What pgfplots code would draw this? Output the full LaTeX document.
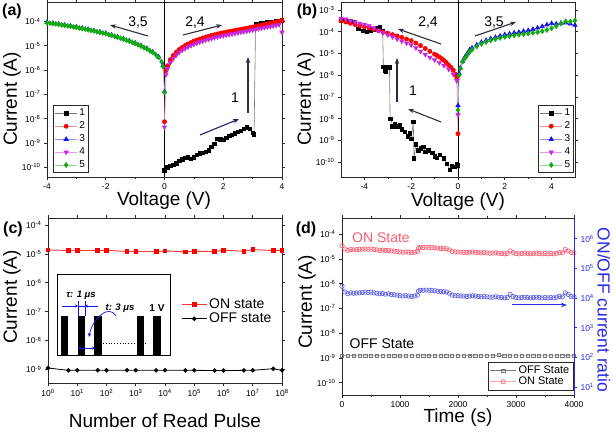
\documentclass[border=0pt]{standalone}
\usepackage{pgfplots}
\pgfplotsset{compat=1.18}
\usepackage{fontspec}
\setmainfont{Liberation Sans}
\usetikzlibrary{arrows.meta}

\definecolor{cRed}{RGB}{255,0,0}
\definecolor{cRedL}{RGB}{255,140,140}
\definecolor{cBlue}{RGB}{20,20,240}
\definecolor{cBlueL}{RGB}{140,140,255}
\definecolor{cMag}{RGB}{200,40,220}
\definecolor{cMagL}{RGB}{230,150,240}
\definecolor{cGrn}{RGB}{20,170,20}
\definecolor{cGrnL}{RGB}{140,220,140}
\definecolor{cGray}{RGB}{120,120,120}
\definecolor{cAx}{RGB}{40,40,40}
\definecolor{cArr}{RGB}{45,45,60}
\definecolor{cArrB}{RGB}{30,30,110}
\definecolor{cRAx}{RGB}{40,40,230}
\definecolor{cRatio}{RGB}{90,90,225}
\definecolor{cOn}{RGB}{255,90,110}

\pgfplotsset{
  myax/.style={scale only axis, anchor=south west,
    axis line style={line width=0.8pt, cAx},
    tick style={cAx, line width=0.6pt},
    tick align=outside, major tick length=3pt, minor tick length=1.8pt,
    tick label style={font=\fontsize{8.5}{9}\selectfont},
    /pgf/number format/assume math mode=true,
    /pgf/number format/1000 sep={},
  },
  myylab/.style={yticklabel={\pgfmathparse{int(round(\tick))}10\textsuperscript{\pgfmathresult}}},
  mysmallleg/.style={legend style={font=\fontsize{10}{11}\selectfont, draw=cAx, line width=0.5pt,
      inner sep=1.5pt, row sep=0.5pt, cells={anchor=west}},
    legend image code/.code={\draw[mark repeat=2,mark phase=2,##1] plot coordinates {(0pt,0pt)(11pt,0pt)(22pt,0pt)};}},
  sA/.style={color=cGray, line width=0.6pt, mark=square*, mark size=1.7pt, mark options={draw=black, fill=black}},
  sB/.style={color=cRedL, line width=0.6pt, mark=*, mark size=2.1pt, mark options={draw=cRed, fill=cRed}},
  sC/.style={color=cBlueL, line width=0.6pt, mark=triangle*, mark size=2.5pt, mark options={draw=cBlue, fill=cBlue}},
  sD/.style={color=cMagL, line width=0.6pt, mark=triangle*, mark size=2.5pt, mark options={draw=cMag, fill=cMag, rotate=180}},
  sE/.style={color=cGrnL, line width=0.6pt, mark=diamond*, mark size=2.5pt, mark options={draw=cGrn, fill=cGrn}},
}

\begin{document}
\begin{tikzpicture}
\path[use as bounding box] (0,0) rectangle (614pt,433pt);

% ---------------- (a) ----------------
\begin{axis}[myax, ymode=log, log basis y=10, myylab, mysmallleg, at={(47pt,256pt)}, width=235pt, height=175pt,
  xmin=-4, xmax=4, ymin=3.98e-11, ymax=6.31e-4,
  xtick={-4,-2,0,2,4}, minor x tick num=1,
  ytick={1e-10,1e-9,1e-8,1e-7,1e-6,1e-5,1e-4},
  legend style={at={(0.026,0.023)}, anchor=south west}]
\addplot[black, line width=0.7pt, forget plot] coordinates {(0,1e-12) (0,1e-2)};
\addplot[sA] coordinates {(0,7.5e-11)(0.1,1.0e-10)(0.2,1.15e-10)(0.3,1.3e-10)(0.4,1.45e-10)(0.5,1.8e-10)(0.6,2.1e-10)(0.7,2.4e-10)(0.8,2.6e-10)(0.9,2.2e-10)(1.0,2.6e-10)(1.1,3.2e-10)(1.2,3.7e-10)(1.3,4.0e-10)(1.4,4.3e-10)(1.5,5.0e-10)(1.6,7.0e-10)(1.7,9.5e-10)(1.8,1.45e-9)(1.9,1.4e-9)(2.0,1.35e-9)(2.1,1.6e-9)(2.2,1.95e-9)(2.3,2.2e-9)(2.4,2.5e-9)(2.5,2.8e-9)(2.6,3.2e-9)(2.7,3.8e-9)(2.8,4.4e-9)(2.9,3.9e-9)(3.0,2.6e-9)(3.05,2.3e-9)(3.1,7.8e-5)(3.2,8.2e-5)(3.3,8.5e-5)(3.4,8.8e-5)(3.5,9.1e-5)(3.6,9.4e-5)(3.7,9.7e-5)(3.8,1.01e-4)(3.9,1.05e-4)(4.0,1.1e-4)};
\addplot[sB] coordinates {(0,7.5e-9)(0.05,9.5e-7)(0.1,1.5e-6)(0.2,2.7e-6)(0.3,4.0e-6)(0.4,5.4e-6)(0.5,7.0e-6)(0.6,8.6e-6)(0.7,1.02e-5)(0.8,1.18e-5)(0.9,1.35e-5)(1.0,1.55e-5)(1.1,1.72e-5)(1.2,1.9e-5)(1.3,2.08e-5)(1.4,2.27e-5)(1.5,2.46e-5)(1.6,2.65e-5)(1.7,2.85e-5)(1.8,3.05e-5)(1.9,3.25e-5)(2.0,3.45e-5)(2.1,3.65e-5)(2.2,3.85e-5)(2.3,4.05e-5)(2.4,4.3e-5)(2.5,4.5e-5)(2.6,4.75e-5)(2.7,5.0e-5)(2.8,5.3e-5)(2.9,5.6e-5)(3.0,5.9e-5)(3.1,6.3e-5)(3.2,6.7e-5)(3.3,7.1e-5)(3.4,7.5e-5)(3.5,8.0e-5)(3.6,8.5e-5)(3.7,9.0e-5)(3.8,9.6e-5)(3.9,1.02e-4)(4.0,1.1e-4)};
\addplot[sC] coordinates {(0,1.3e-7)(-0.05,1.6e-6)(-0.2,3.5e-6)(-0.4,5.6e-6)(-0.6,7.8e-6)(-0.8,1.02e-5)(-1.0,1.3e-5)(-1.2,1.62e-5)(-1.4,1.97e-5)(-1.6,2.35e-5)(-1.8,2.78e-5)(-2.0,3.3e-5)(-2.2,3.7e-5)(-2.4,4.2e-5)(-2.6,4.75e-5)(-2.8,5.35e-5)(-3.0,5.95e-5)(-3.2,6.6e-5)(-3.4,7.2e-5)(-3.6,7.9e-5)(-3.8,8.6e-5)(-4.0,9.3e-5)};
\addplot[sD] coordinates {(0,4.5e-9)(0.05,6.5e-7)(0.1,1.1e-6)(0.2,2.0e-6)(0.3,3.0e-6)(0.4,4.1e-6)(0.5,5.3e-6)(0.6,6.5e-6)(0.7,7.7e-6)(0.8,8.9e-6)(0.9,1.02e-5)(1.0,1.15e-5)(1.1,1.28e-5)(1.2,1.42e-5)(1.3,1.56e-5)(1.4,1.7e-5)(1.5,1.85e-5)(1.6,2.0e-5)(1.7,2.15e-5)(1.8,2.3e-5)(1.9,2.45e-5)(2.0,2.6e-5)(2.1,2.75e-5)(2.2,2.9e-5)(2.3,3.05e-5)(2.4,3.2e-5)(2.5,3.4e-5)(2.6,3.6e-5)(2.7,3.8e-5)(2.8,4.0e-5)(2.9,4.2e-5)(3.0,4.45e-5)(3.1,4.7e-5)(3.2,5.0e-5)(3.3,5.3e-5)(3.4,5.6e-5)(3.5,5.9e-5)(3.6,6.2e-5)(3.7,6.6e-5)(3.8,7.0e-5)(3.9,7.4e-5)(4.0,3.6e-5)};
\addplot[sE] coordinates {(0,1.2e-7)(-0.05,1.4e-6)(-0.1,2.2e-6)(-0.2,3.3e-6)(-0.3,4.3e-6)(-0.4,5.3e-6)(-0.5,6.3e-6)(-0.6,7.4e-6)(-0.7,8.5e-6)(-0.8,9.7e-6)(-0.9,1.1e-5)(-1.0,1.25e-5)(-1.1,1.4e-5)(-1.2,1.55e-5)(-1.3,1.7e-5)(-1.4,1.88e-5)(-1.5,2.05e-5)(-1.6,2.25e-5)(-1.7,2.45e-5)(-1.8,2.65e-5)(-1.9,2.9e-5)(-2.0,3.15e-5)(-2.1,3.35e-5)(-2.2,3.55e-5)(-2.3,3.8e-5)(-2.4,4.05e-5)(-2.5,4.3e-5)(-2.6,4.55e-5)(-2.7,4.85e-5)(-2.8,5.1e-5)(-2.9,5.4e-5)(-3.0,5.7e-5)(-3.1,6.0e-5)(-3.2,6.3e-5)(-3.3,6.6e-5)(-3.4,6.9e-5)(-3.5,7.2e-5)(-3.6,7.55e-5)(-3.7,7.9e-5)(-3.8,8.2e-5)(-3.9,8.55e-5)(-4.0,8.9e-5)};
\legend{1,2,3,4,5}
\end{axis}

% ---------------- (b) ----------------
\begin{axis}[myax, ymode=log, log basis y=10, myylab, mysmallleg, at={(341pt,256pt)}, width=234pt, height=175pt,
  xmin=-5, xmax=5, ymin=2.04e-11, ymax=2.34e-3,
  xtick={-4,-2,0,2,4}, minor x tick num=1,
  ytick={1e-10,1e-9,1e-8,1e-7,1e-6,1e-5,1e-4,1e-3},
  legend style={at={(0.995,0.023)}, anchor=south east}]
\addplot[black, line width=0.7pt, forget plot] coordinates {(0,1e-12) (0,1e-2)};
\addplot[sA] coordinates {(0,7e-11)(-0.05,8e-11)(-0.15,6e-11)(-0.27,6.8e-11)(-0.35,4.5e-11)(-0.48,8.5e-11)(-0.6,1.5e-10)(-0.77,2.1e-10)(-0.9,1.6e-10)(-0.98,1.8e-10)(-1.1,2.6e-10)(-1.27,3.5e-10)(-1.4,3.0e-10)(-1.48,5.0e-10)(-1.6,4.2e-10)(-1.7,3.5e-10)(-1.8,6.5e-10)(-1.88,1.5e-10)(-1.91,7.0e-9)(-2.0,1.2e-9)(-2.06,2.1e-9)(-2.15,1.5e-9)(-2.27,2.5e-9)(-2.4,3.2e-9)(-2.48,5.0e-9)(-2.6,4.5e-9)(-2.7,5.6e-9)(-2.8,4.5e-9)(-2.87,1.0e-8)(-2.9,1.0e-8)(-2.93,2.3e-6)(-3.0,2.4e-6)(-3.08,1.5e-6)(-3.12,1.6e-6)(-3.19,2.4e-6)(-3.22,1.1e-4)(-3.33,1.6e-4)(-3.45,1.5e-4)(-3.62,1.3e-4)(-3.75,1.1e-4)(-3.9,1.0e-4)(-4.05,1.1e-4)(-4.26,1.4e-4)(-4.48,2.9e-4)(-4.7,3.0e-4)(-4.84,3.5e-4)(-5.0,3.2e-4)};
\addplot[sB] coordinates {(0,2e-9)(-0.05,8e-7)(-0.1,1.1e-6)(-0.2,1.7e-6)(-0.3,2.3e-6)(-0.4,2.9e-6)(-0.5,3.8e-6)(-0.6,4.8e-6)(-0.7,5.8e-6)(-0.8,6.9e-6)(-0.9,8.1e-6)(-1.0,9.3e-6)(-1.2,1.25e-5)(-1.4,1.7e-5)(-1.6,2.3e-5)(-1.8,3.0e-5)(-2.0,3.9e-5)(-2.2,4.6e-5)(-2.4,5.5e-5)(-2.6,6.4e-5)(-2.8,7.4e-5)(-3.0,8.5e-5)(-3.2,9.8e-5)(-3.4,1.12e-4)(-3.6,1.28e-4)(-3.8,1.5e-4)(-4.0,1.7e-4)(-4.2,1.9e-4)(-4.4,2.15e-4)(-4.6,2.45e-4)(-4.8,2.8e-4)(-5.0,3.2e-4)};
\addplot[sC] coordinates {(0,4e-8)(0.05,1.2e-6)(0.1,2.2e-6)(0.2,4.5e-6)(0.3,7e-6)(0.4,1.0e-5)(0.5,1.5e-5)(0.6,1.8e-5)(0.8,2.5e-5)(1.0,3.3e-5)(1.2,4.0e-5)(1.4,4.8e-5)(1.6,5.6e-5)(1.8,6.5e-5)(2.0,7.4e-5)(2.2,8.0e-5)(2.4,8.8e-5)(2.6,9.5e-5)(2.8,1.05e-4)(3.0,1.15e-4)(3.2,1.3e-4)(3.4,1.5e-4)(3.6,1.75e-4)(3.8,2.1e-4)(4.0,2.4e-4)(4.2,2.3e-4)(4.4,2.5e-4)(4.6,2.6e-4)(4.8,2.3e-4)(5.0,2.0e-4)};
\addplot[sD] coordinates {(0,1.5e-8)(-0.05,5.5e-7)(-0.2,1.1e-6)(-0.4,1.9e-6)(-0.6,2.8e-6)(-0.8,3.8e-6)(-1.0,5.0e-6)(-1.2,6.6e-6)(-1.4,9.0e-6)(-1.6,1.25e-5)(-1.8,1.8e-5)(-2.0,2.45e-5)(-2.2,3.0e-5)(-2.4,3.7e-5)(-2.6,4.6e-5)(-2.8,5.8e-5)(-3.0,7.1e-5)(-3.2,9.0e-5)(-3.4,1.15e-4)(-3.6,1.5e-4)(-3.8,1.85e-4)(-4.0,2.1e-4)(-4.2,2.4e-4)(-4.4,2.8e-4)(-4.6,3.3e-4)(-4.8,3.8e-4)(-5.0,4.1e-4)};
\addplot[sE] coordinates {(0,2.5e-8)(0.05,1.0e-6)(0.1,2.0e-6)(0.2,4.2e-6)(0.3,6e-6)(0.4,8.5e-6)(0.5,1.2e-5)(0.6,1.5e-5)(0.8,2.1e-5)(1.0,2.8e-5)(1.2,3.4e-5)(1.4,4.0e-5)(1.6,4.6e-5)(1.8,5.2e-5)(2.0,5.8e-5)(2.2,6.3e-5)(2.4,6.8e-5)(2.6,7.3e-5)(2.8,7.8e-5)(3.0,8.3e-5)(3.2,8.9e-5)(3.4,9.6e-5)(3.6,1.05e-4)(3.8,1.2e-4)(4.0,1.45e-4)(4.2,1.8e-4)(4.4,2.4e-4)(4.6,3.0e-4)(4.8,2.9e-4)(5.0,3.3e-4)};
\legend{1,2,3,4,5}
\end{axis}

% ---------------- (c) ----------------
\begin{axis}[myax, ymode=log, log basis y=10, myylab, at={(48pt,50pt)}, width=234pt, height=165pt,
  xmode=log, log basis x=10,
  xticklabel={\pgfmathparse{int(round(\tick))}10\textsuperscript{\pgfmathresult}},
  xmin=1, xmax=1e8, ymin=3.39e-10, ymax=1.74e-4,
  xtick={1,1e1,1e2,1e3,1e4,1e5,1e6,1e7,1e8},
  ytick={1e-9,1e-8,1e-7,1e-6,1e-5,1e-4},
  legend style={at={(0.556,0.535)}, anchor=north west, draw=none, fill=none,
    font=\fontsize{14}{16}\selectfont, cells={anchor=west}, row sep=-1pt},
  legend image code/.code={\draw[mark repeat=2,mark phase=2,#1] plot coordinates {(0pt,0pt)(12.5pt,0pt)(25pt,0pt)};}]
\addplot[color=cRed!80, line width=0.9pt, mark=square*, mark size=1.8pt, mark options={fill=cRed, draw=cRed}] coordinates {(1,1.37e-5)(5,1.3e-5)(10,1.3e-5)(50,1.3e-5)(100,1.33e-5)(500,1.2e-5)(1000,1.2e-5)(5000,1.2e-5)(1e4,1.26e-5)(5e4,1.18e-5)(1e5,1.23e-5)(5e5,1.2e-5)(1e6,1.33e-5)(5e6,1.23e-5)(1e7,1.4e-5)(5e7,1.3e-5)(1e8,1.33e-5)};
\addplot[color=black, line width=0.8pt, mark=*, mark size=1.8pt, mark options={fill=black}] coordinates {(1,1.12e-9)(5,0.93e-9)(10,0.93e-9)(50,0.94e-9)(100,0.93e-9)(500,0.94e-9)(1000,0.94e-9)(5000,0.93e-9)(1e4,0.93e-9)(5e4,0.93e-9)(1e5,0.93e-9)(5e5,0.92e-9)(1e6,0.91e-9)(5e6,0.93e-9)(1e7,0.93e-9)(5e7,1.06e-9)(1e8,0.93e-9)};
\legend{ON state, OFF state}
\end{axis}

% ---------------- (d) left ----------------
\begin{axis}[myax, ymode=log, log basis y=10, myylab, at={(342pt,38pt)}, width=232pt, height=177pt,
  axis y line*=left, axis x line*=box,
  xmin=0, xmax=4000, ymin=3.16e-11, ymax=4.47e-4,
  xtick={0,1000,2000,3000,4000}, minor x tick num=1,
  ytick={1e-10,1e-9,1e-8,1e-7,1e-6,1e-5,1e-4},
  legend style={at={(0.996,0.028)}, anchor=south east, font=\fontsize{11}{12}\selectfont,
    draw=cAx, line width=0.5pt, inner sep=1.5pt, row sep=-2pt, cells={anchor=west}},
  legend image code/.code={\draw[mark repeat=2,mark phase=2,#1] plot coordinates {(0pt,0pt)(13pt,0pt)(26pt,0pt)};}]
\addplot[color=cGray, line width=0.6pt, mark=square, mark size=1.6pt, mark options={draw=cGray}] coordinates {(0,1.25e-9)(100,1.2e-9)(200,1.22e-9)(300,1.2e-9)(400,1.21e-9)(500,1.2e-9)(600,1.22e-9)(700,1.2e-9)(800,1.21e-9)(900,1.2e-9)(1000,1.19e-9)(1100,1.2e-9)(1200,1.21e-9)(1300,1.2e-9)(1400,1.2e-9)(1500,1.22e-9)(1600,1.2e-9)(1700,1.21e-9)(1800,1.2e-9)(1900,1.2e-9)(2000,1.21e-9)(2100,1.2e-9)(2200,1.25e-9)(2300,1.2e-9)(2400,1.21e-9)(2500,1.2e-9)(2600,1.2e-9)(2700,1.32e-9)(2800,1.2e-9)(2900,1.21e-9)(3000,1.2e-9)(3100,1.2e-9)(3200,1.21e-9)(3300,1.2e-9)(3400,1.2e-9)(3500,1.21e-9)(3600,1.2e-9)(3700,1.2e-9)(3800,1.21e-9)(3900,1.22e-9)(4000,1.2e-9)};
\addplot[color=cOn!55, line width=0.6pt, mark=o, mark size=2.2pt, mark options={draw=cOn}] coordinates {(0,3.4e-5)(50,2.5e-5)(100,2.2e-5)(150,2.4e-5)(200,2.3e-5)(250,2.35e-5)(300,2.4e-5)(350,2.45e-5)(400,2.5e-5)(450,2.45e-5)(500,2.5e-5)(550,2.4e-5)(600,2.3e-5)(650,2.2e-5)(700,2.25e-5)(750,2.15e-5)(800,2.2e-5)(850,2.1e-5)(900,2.05e-5)(950,2.0e-5)(1000,1.9e-5)(1050,1.85e-5)(1100,1.9e-5)(1150,1.85e-5)(1200,1.8e-5)(1250,1.85e-5)(1300,2.0e-5)(1320,2.7e-5)(1350,2.9e-5)(1400,2.9e-5)(1450,2.95e-5)(1500,2.9e-5)(1550,2.85e-5)(1600,2.8e-5)(1650,2.7e-5)(1700,2.65e-5)(1750,2.6e-5)(1800,2.55e-5)(1850,2.3e-5)(1900,2.0e-5)(1950,1.9e-5)(2000,1.9e-5)(2050,1.85e-5)(2100,1.85e-5)(2150,1.8e-5)(2200,1.85e-5)(2250,1.9e-5)(2300,1.85e-5)(2350,1.8e-5)(2400,1.75e-5)(2450,1.8e-5)(2500,1.75e-5)(2550,1.7e-5)(2600,1.7e-5)(2650,1.75e-5)(2700,1.7e-5)(2750,1.65e-5)(2800,1.6e-5)(2850,1.65e-5)(2900,2.1e-5)(2950,1.8e-5)(3000,1.65e-5)(3050,1.6e-5)(3100,1.65e-5)(3150,1.7e-5)(3200,1.65e-5)(3250,1.6e-5)(3300,1.65e-5)(3350,1.7e-5)(3400,1.65e-5)(3450,1.6e-5)(3500,1.65e-5)(3550,1.6e-5)(3600,1.65e-5)(3650,1.6e-5)(3700,1.7e-5)(3750,1.8e-5)(3800,1.75e-5)(3850,2.4e-5)(3900,2.1e-5)(3950,1.8e-5)(4000,1.75e-5)};
\legend{OFF State, ON State}
\end{axis}

% ---------------- (d) right ----------------
\begin{axis}[myax, ymode=log, log basis y=10, myylab, at={(342pt,38pt)}, width=232pt, height=177pt,
  axis y line*=right, axis x line=none,
  axis line style={line width=0.8pt, cRAx}, ytick style={cRAx},
  yticklabel style={text=cRAx},
  xmin=0, xmax=4000, ymin=5.37, ymax=5.01e6,
  ytick={1e1,1e2,1e3,1e4,1e5,1e6}]
\addplot[color=cRatio!60, line width=0.6pt, mark=o, mark size=2.2pt, mark options={draw=cRatio}] coordinates {(0,2.5e4)(50,1.6e4)(100,1.4e4)(150,1.5e4)(200,1.45e4)(250,1.48e4)(300,1.5e4)(350,1.55e4)(400,1.58e4)(450,1.55e4)(500,1.58e4)(550,1.5e4)(600,1.45e4)(650,1.39e4)(700,1.42e4)(750,1.35e4)(800,1.39e4)(850,1.32e4)(900,1.29e4)(950,1.26e4)(1000,1.2e4)(1050,1.17e4)(1100,1.2e4)(1150,1.17e4)(1200,1.13e4)(1250,1.17e4)(1300,1.26e4)(1320,1.7e4)(1350,1.83e4)(1400,1.83e4)(1450,1.86e4)(1500,1.83e4)(1550,1.8e4)(1600,1.76e4)(1650,1.7e4)(1700,1.67e4)(1750,1.64e4)(1800,1.6e4)(1850,1.45e4)(1900,1.26e4)(1950,1.2e4)(2000,1.2e4)(2050,1.17e4)(2100,1.17e4)(2150,1.13e4)(2200,1.17e4)(2250,1.2e4)(2300,1.17e4)(2350,1.13e4)(2400,1.1e4)(2450,1.13e4)(2500,1.1e4)(2550,1.07e4)(2600,1.07e4)(2650,1.1e4)(2700,1.07e4)(2750,1.04e4)(2800,1.01e4)(2850,1.04e4)(2900,1.32e4)(2950,1.13e4)(3000,1.04e4)(3050,1.01e4)(3100,1.04e4)(3150,1.07e4)(3200,1.04e4)(3250,1.01e4)(3300,1.04e4)(3350,1.07e4)(3400,1.04e4)(3450,1.01e4)(3500,1.04e4)(3550,1.01e4)(3600,1.04e4)(3650,1.01e4)(3700,1.07e4)(3750,1.13e4)(3800,1.1e4)(3850,1.5e4)(3900,1.32e4)(3950,1.13e4)(4000,1.1e4)};
\end{axis}

% ---------------- labels and annotations (pixel coordinates) ----------------
\begin{scope}[x=1pt, y=-1pt, shift={(0,433pt)}]
  \tikzset{arr/.style={cArr, line width=1.1pt, -{Stealth[length=6pt,width=4.5pt]}},
           ttl/.style={font=\fontsize{19}{20}\selectfont, inner sep=0pt}}
  % axis titles
  \node[ttl] at (164,201) {Voltage (V)};
  \node[ttl] at (458,202) {Voltage (V)};
  \node[ttl] at (165,421) {Number of Read Pulse};
  \node[ttl] at (458,418) {Time (s)};
  \node[ttl, rotate=90] at (12,99) {Current (A)};
  \node[ttl, rotate=90] at (306,99) {Current (A)};
  \node[ttl, rotate=90] at (12,297) {Current (A)};
  \node[ttl, rotate=90] at (307,302) {Current (A)};
  \node[inner sep=0pt, rotate=-90, text=cRAx, font=\fontsize{17.5}{19}\selectfont] at (604,310) {ON/OFF current ratio};
  % panel labels
  \node[font=\fontsize{16}{17}\selectfont\bfseries] at (12,11) {(a)};
  \node[font=\fontsize{16}{17}\selectfont\bfseries] at (307,11) {(b)};
  \node[font=\fontsize{16}{17}\selectfont\bfseries] at (13,229) {(c)};
  \node[font=\fontsize{16}{17}\selectfont\bfseries] at (306,229) {(d)};
  % (a)
  \node[font=\fontsize{14}{15}\selectfont] at (138,23) {3,5};
  \draw[arr] (148,36) -- (110,25);
  \node[font=\fontsize{14}{15}\selectfont] at (195,23) {2,4};
  \draw[arr] (183,35) -- (222,25);
  \node[font=\fontsize{14}{15}\selectfont] at (235,98) {1};
  \draw[arr] (248,113) -- (248,57);
  \draw[arr, color=cArrB] (200,135) -- (239,119);
  % (b)
  \node[font=\fontsize{14}{15}\selectfont] at (428,23) {2,4};
  \draw[arr] (441,44) -- (398,29);
  \node[font=\fontsize{14}{15}\selectfont] at (494,23) {3,5};
  \draw[arr] (475,36) -- (516,22);
  \node[font=\fontsize{14}{15}\selectfont] at (413,91) {1};
  \draw[arr] (397,102) -- (397,58);
  \draw[arr] (441,122) -- (408,109);
  % (c) inset
  \draw[black, line width=0.8pt, fill=white] (57,274) rectangle (170,355);
  \fill[black] (61,316) rectangle (68,355);
  \fill[black] (78,316) rectangle (85,355);
  \fill[black] (94,316) rectangle (102,355);
  \fill[black] (137,316) rectangle (144,355);
  \fill[black] (153,316) rectangle (161,355);
  \draw[black, dotted, line width=0.8pt] (103,343) -- (147,343);
  \node[font=\fontsize{9.5}{10}\selectfont\bfseries\itshape] at (81,295) {τ: 1 μs};
  \node[font=\fontsize{9.5}{10}\selectfont\bfseries\itshape] at (120,308) {t: 3 μs};
  \node[font=\fontsize{10}{11}\selectfont\bfseries] at (157,308) {1 V};
  \draw[cBlue, line width=0.6pt] (78,301) -- (78,316) (85,301) -- (85,316);
  \draw[cBlue, line width=0.6pt, -{Stealth[length=3pt,width=3pt]}] (62,306) -- (78,306);
  \draw[cBlue, line width=0.6pt, -{Stealth[length=3pt,width=3pt]}] (98,306) -- (85,306);
  \draw[cBlue, line width=0.6pt] (78,306) -- (85,306);
  \draw[cBlue, line width=0.6pt, {Stealth[length=3pt,width=3pt]}-{Stealth[length=3pt,width=3pt]}] (78,348) -- (95,348);
  \draw[cBlue, line width=0.7pt, -{Stealth[length=4pt,width=3.5pt]}] (116,316) .. controls (108,303) and (92,320) .. (89,337);
  % (d)
  \node[font=\fontsize{14}{15}\selectfont, text=cOn] at (381,238) {ON State};
  \node[font=\fontsize{14}{15}\selectfont] at (382,344) {OFF State};
  \draw[cRAx, line width=1pt, -{Stealth[length=6pt,width=4.5pt]}] (512,305) -- (567,305);
\end{scope}
\end{tikzpicture}
\end{document}
